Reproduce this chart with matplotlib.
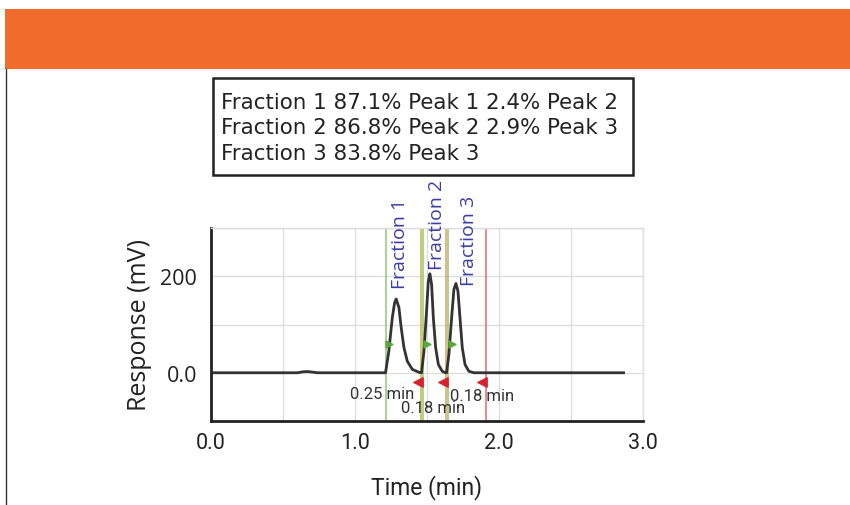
import matplotlib
matplotlib.use("Agg")
import matplotlib.pyplot as plt
from matplotlib.patches import Rectangle
from matplotlib.lines import Line2D

W, H = 850, 506

# chromatogram trace (min, mV)
time_min = [0.00, 0.60, 0.64, 0.67, 0.70, 0.74, 1.212, 1.235, 1.259, 1.275, 1.286,
            1.305, 1.321, 1.340, 1.363, 1.398, 1.444, 1.462, 1.479, 1.497, 1.509,
            1.520, 1.532, 1.544, 1.560, 1.579, 1.606, 1.629, 1.636, 1.652, 1.671,
            1.687, 1.701, 1.715, 1.729, 1.745, 1.764, 1.791, 1.826, 2.865]
response_mv = [0, 0, 2, 2.5, 1.5, 0, 0, 45, 114, 145, 153,
               135, 93, 52, 24, 7, 1, 0, 45, 128, 190,
               205, 183, 114, 52, 17, 3, 0, 0, 38, 114,
               173, 185, 169, 114, 52, 17, 3, 0, 0]

# fraction window marks
start_lines = [1.212, 1.475, 1.648]
end_lines = [1.458, 1.634, 1.908]
end_colors = ["#c9b53a", "#dba15a", "#d96a78"]
start_marks_x = [1.235, 1.502, 1.676]
start_marks_y = [60, 60, 59]
end_marks_x = [1.437, 1.613, 1.884]
end_marks_y = [-19, -19, -19]

frac_labels = ["Fraction 1", "Fraction 2", "Fraction 3"]
frac_label_x = [1.315, 1.57, 1.79]
frac_label_y = [175, 214, 181]

dur_labels = ["0.25 min", "0.18 min", "0.18 min"]
dur_x = [1.19, 1.545, 1.88]
dur_y = [-42, -73, -47]

legend_lines = ["Fraction 1 87.1% Peak 1 2.4% Peak 2",
                "Fraction 2 86.8% Peak 2 2.9% Peak 3",
                "Fraction 3 83.8% Peak 3"]

xticks = [0, 1, 2, 3]
xtick_labels = ["0.0", "1.0", "2.0", "3.0"]
yticks = [0, 200]
ytick_labels = ["0.0", "200"]

fig = plt.figure(figsize=(W / 100, H / 100), dpi=100)
fig.patch.set_facecolor("white")

# orange banner + thin rule on the left
fig.patches.append(Rectangle((5 / W, 1 - 70 / H), 1, 60 / H, transform=fig.transFigure,
                             facecolor="#f06b2c", edgecolor="none"))
fig.lines.append(Line2D([5.5 / W, 5.5 / W], [0, 1 - 70 / H], transform=fig.transFigure,
                        color="#333333", lw=1))

# legend box
fig.patches.append(Rectangle((213 / W, 1 - 176 / H), 420 / W, 97 / H, transform=fig.transFigure,
                             facecolor="white", edgecolor="#222222", lw=1.8))
for i, ln in enumerate(legend_lines):
    fig.text(221 / W, 1 - (103 + 25.3 * i) / H, ln, family="DejaVu Sans", fontsize=15.4,
             color="#222222", va="center", ha="left")

ax = fig.add_axes([211 / W, 1 - 422 / H, 432 / W, 193 / H])
ax.set_xlim(0, 3)
ax.set_ylim(-100, 300)

ax.set_xticks([0.5, 1.5, 2.5], minor=True)
ax.set_yticks([-100, 100, 300], minor=True)
ax.set_xticks(xticks)
ax.set_xticklabels(xtick_labels, family="Roboto", fontsize=15.5, color="#222222")
ax.set_yticks(yticks)
ax.set_yticklabels(ytick_labels, family="Open Sans", fontsize=15.5, color="#222222")
ax.tick_params(which="both", length=0)
ax.tick_params(axis="x", pad=8)
ax.tick_params(axis="y", pad=10)
ax.grid(True, which="both", color="#dedede", lw=1)
ax.set_axisbelow(True)

for s in ["top", "right"]:
    ax.spines[s].set_color("#dedede")
    ax.spines[s].set_linewidth(1)
for s in ["left", "bottom"]:
    ax.spines[s].set_color("#222222")
    ax.spines[s].set_linewidth(2)

for x in start_lines:
    ax.axvline(x, color="#8cc070", lw=1.5, alpha=0.7)
for x, c in zip(end_lines, end_colors):
    ax.axvline(x, color=c, lw=1.5, alpha=0.75)

ax.plot(time_min, response_mv, color="#333333", lw=2, solid_joinstyle="round")

ax.scatter(start_marks_x, start_marks_y, marker=">", s=25, color="#5aa83c", zorder=4)
ax.scatter(end_marks_x, end_marks_y, marker="<", s=45, color="#d8202e", zorder=4)

for t, x, y in zip(frac_labels, frac_label_x, frac_label_y):
    ax.text(x, y, t, rotation=90, ha="center", va="bottom", family="Open Sans",
            fontsize=14, color="#3c3ca8", clip_on=False)
for t, x, y in zip(dur_labels, dur_x, dur_y):
    ax.text(x, y, t, ha="center", va="center", family="Roboto", fontsize=12,
            color="#333333")

ax.set_xlabel("Time (min)", family="Roboto", fontsize=16.5, color="#222222", labelpad=15)
ax.set_ylabel("Response (mV)", family="Open Sans", fontsize=18, color="#222222", labelpad=6)

fig.savefig("out.png", dpi=100)
